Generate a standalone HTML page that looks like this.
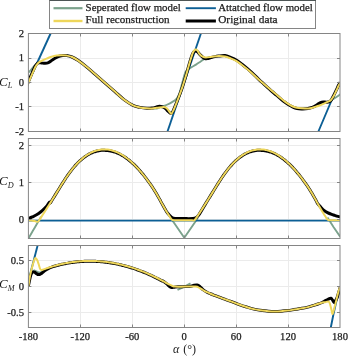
<!DOCTYPE html>
<html><head><meta charset="utf-8"><title>Aerodynamic coefficients</title>
<style>html,body{margin:0;padding:0;background:#fff;}svg{display:block;}</style>
</head><body>
<svg width="350" height="359" viewBox="0 0 350 359"><defs><filter id="bl" filterUnits="userSpaceOnUse" x="0" y="0" width="350" height="359" color-interpolation-filters="sRGB"><feGaussianBlur stdDeviation="0.4"/></filter><clipPath id="c0"><rect x="28.4" y="33.5" width="311.6" height="98.0"/></clipPath><clipPath id="c1"><rect x="28.4" y="138.5" width="311.6" height="100.0"/></clipPath><clipPath id="c2"><rect x="28.4" y="245.5" width="311.6" height="82.0"/></clipPath></defs><rect width="350" height="359" fill="#fff"/><g filter="url(#bl)"><line x1="80.5" y1="33.5" x2="80.5" y2="131.5" stroke="#ebebeb" stroke-width="1"/><line x1="132.5" y1="33.5" x2="132.5" y2="131.5" stroke="#ebebeb" stroke-width="1"/><line x1="184.5" y1="33.5" x2="184.5" y2="131.5" stroke="#ebebeb" stroke-width="1"/><line x1="236.5" y1="33.5" x2="236.5" y2="131.5" stroke="#ebebeb" stroke-width="1"/><line x1="288.5" y1="33.5" x2="288.5" y2="131.5" stroke="#ebebeb" stroke-width="1"/><line x1="28.4" y1="106.5" x2="340.0" y2="106.5" stroke="#ebebeb" stroke-width="1"/><line x1="28.4" y1="82.5" x2="340.0" y2="82.5" stroke="#ebebeb" stroke-width="1"/><line x1="28.4" y1="58.5" x2="340.0" y2="58.5" stroke="#ebebeb" stroke-width="1"/><line x1="80.5" y1="138.5" x2="80.5" y2="238.5" stroke="#ebebeb" stroke-width="1"/><line x1="132.5" y1="138.5" x2="132.5" y2="238.5" stroke="#ebebeb" stroke-width="1"/><line x1="184.5" y1="138.5" x2="184.5" y2="238.5" stroke="#ebebeb" stroke-width="1"/><line x1="236.5" y1="138.5" x2="236.5" y2="238.5" stroke="#ebebeb" stroke-width="1"/><line x1="288.5" y1="138.5" x2="288.5" y2="238.5" stroke="#ebebeb" stroke-width="1"/><line x1="28.4" y1="219.5" x2="340.0" y2="219.5" stroke="#ebebeb" stroke-width="1"/><line x1="28.4" y1="182.5" x2="340.0" y2="182.5" stroke="#ebebeb" stroke-width="1"/><line x1="28.4" y1="145.5" x2="340.0" y2="145.5" stroke="#ebebeb" stroke-width="1"/><line x1="80.5" y1="245.5" x2="80.5" y2="327.5" stroke="#ebebeb" stroke-width="1"/><line x1="132.5" y1="245.5" x2="132.5" y2="327.5" stroke="#ebebeb" stroke-width="1"/><line x1="184.5" y1="245.5" x2="184.5" y2="327.5" stroke="#ebebeb" stroke-width="1"/><line x1="236.5" y1="245.5" x2="236.5" y2="327.5" stroke="#ebebeb" stroke-width="1"/><line x1="288.5" y1="245.5" x2="288.5" y2="327.5" stroke="#ebebeb" stroke-width="1"/><line x1="28.4" y1="312.5" x2="340.0" y2="312.5" stroke="#ebebeb" stroke-width="1"/><line x1="28.4" y1="286.5" x2="340.0" y2="286.5" stroke="#ebebeb" stroke-width="1"/><line x1="28.4" y1="260.5" x2="340.0" y2="260.5" stroke="#ebebeb" stroke-width="1"/><g clip-path="url(#c0)"><path d="M28.40,72.50 C28.83,72.05 29.93,70.97 31.00,69.80 C32.07,68.63 33.63,66.65 34.80,65.50 C35.97,64.35 37.47,63.33 38.00,62.90" fill="none" stroke="#7ba28c" stroke-width="1.9" stroke-linejoin="round" stroke-linecap="butt" /><path d="M152.00,108.40 C152.73,108.42 154.90,108.75 156.40,108.50 C157.90,108.25 159.33,107.48 161.00,106.90 C162.67,106.32 164.55,105.80 166.40,105.00 C168.25,104.20 170.42,103.13 172.10,102.10 C173.78,101.07 175.27,100.32 176.50,98.80 C177.73,97.28 178.50,95.80 179.50,93.00 C180.50,90.20 181.53,85.43 182.50,82.00 C183.47,78.57 184.30,74.53 185.30,72.40 C186.30,70.27 187.47,70.07 188.50,69.20 C189.53,68.33 190.25,67.97 191.50,67.20 C192.75,66.43 194.58,65.47 196.00,64.60 C197.42,63.73 198.50,63.00 200.00,62.00 C201.50,61.00 203.33,59.43 205.00,58.60 C206.67,57.77 209.17,57.27 210.00,57.00" fill="none" stroke="#7ba28c" stroke-width="1.9" stroke-linejoin="round" stroke-linecap="butt" /><path d="M329.50,101.30 C330.08,100.92 331.83,99.72 333.00,99.00 C334.17,98.28 335.30,97.77 336.50,97.00 C337.70,96.23 339.58,94.83 340.20,94.40" fill="none" stroke="#7ba28c" stroke-width="1.9" stroke-linejoin="round" stroke-linecap="butt" /><path d="M28.40,82.00 L50.60,33.50" fill="none" stroke="#0c5f95" stroke-width="1.9" stroke-linejoin="round" stroke-linecap="butt" /><path d="M167.50,131.50 L200.90,33.50" fill="none" stroke="#0c5f95" stroke-width="1.9" stroke-linejoin="round" stroke-linecap="butt" /><path d="M318.40,131.50 L331.30,101.00 L333.70,96.00 L336.50,90.30 L340.20,82.50" fill="none" stroke="#0c5f95" stroke-width="1.9" stroke-linejoin="round" stroke-linecap="butt" /><path d="M26.60,85.80 C26.83,85.27 27.47,83.85 28.00,82.60 C28.53,81.35 29.20,79.72 29.80,78.30 C30.40,76.88 30.97,75.57 31.60,74.10 C32.23,72.63 32.98,70.85 33.60,69.50 C34.22,68.15 34.67,67.02 35.30,66.00 C35.93,64.98 36.70,63.93 37.40,63.40 C38.10,62.87 38.80,62.87 39.50,62.80 C40.20,62.73 40.67,62.92 41.60,63.00 C42.53,63.08 43.95,63.37 45.10,63.30 C46.25,63.23 47.53,62.97 48.50,62.60 C49.47,62.23 50.02,61.70 50.90,61.10 C51.78,60.50 52.85,59.63 53.80,59.00 C54.75,58.37 55.57,57.80 56.60,57.30 C57.63,56.80 58.93,56.28 60.00,56.00 C61.07,55.72 61.90,55.67 63.00,55.60 C64.10,55.53 65.10,55.37 66.60,55.60 C68.10,55.83 70.05,56.17 72.00,57.00 C73.95,57.83 75.73,58.83 78.30,60.60 C80.87,62.37 84.35,65.10 87.40,67.60 C90.45,70.10 93.55,72.93 96.60,75.60 C99.65,78.27 102.65,80.93 105.70,83.60 C108.75,86.27 111.85,88.93 114.90,91.60 C117.95,94.27 120.98,97.32 124.00,99.60 C127.02,101.88 130.33,104.00 133.00,105.30 C135.67,106.60 137.67,106.90 140.00,107.40 C142.33,107.90 145.00,108.18 147.00,108.30 C149.00,108.42 150.50,108.28 152.00,108.10 C153.50,107.92 154.78,107.52 156.00,107.20 C157.22,106.88 158.22,106.27 159.30,106.20 C160.38,106.13 161.47,106.42 162.50,106.80 C163.53,107.18 164.58,107.77 165.50,108.50 C166.42,109.23 167.25,110.45 168.00,111.20 C168.75,111.95 169.28,112.78 170.00,113.00 C170.72,113.22 171.55,113.42 172.30,112.50 C173.05,111.58 173.57,109.70 174.50,107.50 C175.43,105.30 176.63,102.57 177.90,99.30 C179.17,96.03 180.75,91.87 182.10,87.90 C183.45,83.93 184.68,79.90 186.00,75.50 C187.32,71.10 188.87,65.17 190.00,61.50 C191.13,57.83 191.97,55.25 192.80,53.50 C193.63,51.75 194.22,51.28 195.00,51.00 C195.78,50.72 196.67,51.20 197.50,51.80 C198.33,52.40 199.17,53.73 200.00,54.60 C200.83,55.47 201.67,56.33 202.50,57.00 C203.33,57.67 204.15,58.33 205.00,58.60 C205.85,58.87 206.60,58.77 207.60,58.60 C208.60,58.43 209.77,57.93 211.00,57.60 C212.23,57.27 213.75,56.85 215.00,56.60 C216.25,56.35 216.83,56.27 218.50,56.10 C220.17,55.93 223.00,55.38 225.00,55.60 C227.00,55.82 228.57,56.63 230.50,57.40 C232.43,58.17 234.68,59.07 236.60,60.20 C238.52,61.33 240.10,62.70 242.00,64.20 C243.90,65.70 245.83,67.30 248.00,69.20 C250.17,71.10 253.17,73.87 255.00,75.60 C256.83,77.33 257.57,78.23 259.00,79.60 C260.43,80.97 262.10,82.43 263.60,83.80 C265.10,85.17 266.58,86.52 268.00,87.80 C269.42,89.08 270.70,90.27 272.10,91.50 C273.50,92.73 274.97,93.97 276.40,95.20 C277.83,96.43 279.38,97.80 280.70,98.90 C282.02,100.00 282.98,100.82 284.30,101.80 C285.62,102.78 287.17,103.92 288.60,104.80 C290.03,105.68 291.48,106.48 292.90,107.10 C294.32,107.72 295.68,108.20 297.10,108.50 C298.52,108.80 299.97,108.85 301.40,108.90 C302.83,108.95 304.27,108.95 305.70,108.80 C307.13,108.65 308.62,108.37 310.00,108.00 C311.38,107.63 312.75,107.20 314.00,106.60 C315.25,106.00 316.42,105.07 317.50,104.40 C318.58,103.73 319.53,103.00 320.50,102.60 C321.47,102.20 322.30,102.07 323.30,102.00 C324.30,101.93 325.47,102.27 326.50,102.20 C327.53,102.13 328.67,102.03 329.50,101.60 C330.33,101.17 330.80,100.63 331.50,99.60 C332.20,98.57 332.87,97.07 333.70,95.40 C334.53,93.73 335.70,91.28 336.50,89.60 C337.30,87.92 337.88,86.52 338.50,85.30 C339.12,84.08 339.92,82.80 340.20,82.30" fill="none" stroke="#000000" stroke-width="3.0" stroke-linejoin="round" stroke-linecap="butt" /><path d="M27.00,86.00 C27.23,85.48 27.87,84.13 28.40,82.90 C28.93,81.67 29.60,80.02 30.20,78.60 C30.80,77.18 31.37,75.87 32.00,74.40 C32.63,72.93 33.40,71.13 34.00,69.80 C34.60,68.47 35.00,67.43 35.60,66.40 C36.20,65.37 36.87,64.38 37.60,63.60 C38.33,62.82 39.18,62.25 40.00,61.70 C40.82,61.15 41.40,60.82 42.50,60.30 C43.60,59.78 45.10,59.18 46.60,58.60 C48.10,58.02 49.83,57.30 51.50,56.80 C53.17,56.30 54.93,55.87 56.60,55.60 C58.27,55.33 59.83,55.20 61.50,55.20 C63.17,55.20 64.85,55.30 66.60,55.60 C68.35,55.90 70.05,56.17 72.00,57.00 C73.95,57.83 75.73,58.83 78.30,60.60 C80.87,62.37 84.35,65.10 87.40,67.60 C90.45,70.10 93.55,72.93 96.60,75.60 C99.65,78.27 102.65,80.93 105.70,83.60 C108.75,86.27 111.85,88.93 114.90,91.60 C117.95,94.27 120.98,97.32 124.00,99.60 C127.02,101.88 130.33,104.00 133.00,105.30 C135.67,106.60 137.67,106.90 140.00,107.40 C142.33,107.90 145.00,108.13 147.00,108.30 C149.00,108.47 150.33,108.48 152.00,108.40 C153.67,108.32 155.07,108.05 157.00,107.80 C158.93,107.55 162.02,106.87 163.60,106.90 C165.18,106.93 165.60,107.32 166.50,108.00 C167.40,108.68 168.20,110.03 169.00,111.00 C169.80,111.97 170.53,113.97 171.30,113.80 C172.07,113.63 172.50,112.42 173.60,110.00 C174.70,107.58 176.48,102.98 177.90,99.30 C179.32,95.62 180.75,91.87 182.10,87.90 C183.45,83.93 184.68,79.90 186.00,75.50 C187.32,71.10 188.83,65.33 190.00,61.50 C191.17,57.67 192.08,54.50 193.00,52.50 C193.92,50.50 194.75,49.83 195.50,49.50 C196.25,49.17 196.83,49.75 197.50,50.50 C198.17,51.25 198.65,52.97 199.50,54.00 C200.35,55.03 201.53,56.10 202.60,56.70 C203.67,57.30 204.37,57.60 205.90,57.60 C207.43,57.60 209.70,56.98 211.80,56.70 C213.90,56.42 216.30,55.95 218.50,55.90 C220.70,55.85 223.00,56.00 225.00,56.40 C227.00,56.80 228.57,57.52 230.50,58.30 C232.43,59.08 234.68,59.98 236.60,61.10 C238.52,62.22 240.10,63.55 242.00,65.00 C243.90,66.45 245.83,67.97 248.00,69.80 C250.17,71.63 253.17,74.33 255.00,76.00 C256.83,77.67 257.57,78.52 259.00,79.80 C260.43,81.08 262.10,82.42 263.60,83.70 C265.10,84.98 266.58,86.28 268.00,87.50 C269.42,88.72 270.70,89.82 272.10,91.00 C273.50,92.18 274.97,93.40 276.40,94.60 C277.83,95.80 279.38,97.12 280.70,98.20 C282.02,99.28 282.98,100.12 284.30,101.10 C285.62,102.08 287.17,103.20 288.60,104.10 C290.03,105.00 291.48,105.88 292.90,106.50 C294.32,107.12 295.68,107.50 297.10,107.80 C298.52,108.10 299.97,108.20 301.40,108.30 C302.83,108.40 304.27,108.42 305.70,108.40 C307.13,108.38 308.45,108.45 310.00,108.20 C311.55,107.95 313.42,107.35 315.00,106.90 C316.58,106.45 318.08,106.02 319.50,105.50 C320.92,104.98 322.25,104.37 323.50,103.80 C324.75,103.23 325.78,102.68 327.00,102.10 C328.22,101.52 329.68,101.32 330.80,100.30 C331.92,99.28 332.75,97.67 333.70,96.00 C334.65,94.33 335.70,91.97 336.50,90.30 C337.30,88.63 337.88,87.25 338.50,86.00 C339.12,84.75 339.92,83.33 340.20,82.80" fill="none" stroke="#eed65a" stroke-width="2.0" stroke-linejoin="round" stroke-linecap="butt" /></g><g clip-path="url(#c1)"><path d="M28.40,238.50 C29.17,237.18 31.45,233.25 33.00,230.60 C34.55,227.95 36.37,224.90 37.70,222.60 C39.03,220.30 40.45,217.77 41.00,216.80" fill="none" stroke="#7ba28c" stroke-width="1.9" stroke-linejoin="round" stroke-linecap="butt" /><path d="M170.70,218.00 L184.30,237.80 L197.90,218.00" fill="none" stroke="#7ba28c" stroke-width="1.9" stroke-linejoin="round" stroke-linecap="butt" /><path d="M327.50,217.60 L333.50,227.00 L340.20,236.60" fill="none" stroke="#7ba28c" stroke-width="1.9" stroke-linejoin="round" stroke-linecap="butt" /><path d="M28.40,220.60 L340.20,220.60" fill="none" stroke="#0c5f95" stroke-width="1.9" stroke-linejoin="round" stroke-linecap="butt" /><path d="M28.40,218.60 C29.05,218.32 30.93,217.53 32.30,216.90 C33.67,216.27 35.17,215.65 36.60,214.80 C38.03,213.95 39.68,212.75 40.90,211.80 C42.12,210.85 42.90,210.08 43.90,209.10 C44.90,208.12 45.97,207.05 46.90,205.90 C47.83,204.75 48.96,202.66 49.50,202.20 C50.04,201.74 49.80,203.38 50.17,203.13 C50.53,202.88 51.17,201.52 51.68,200.72 C52.18,199.91 52.69,199.10 53.19,198.28 C53.70,197.47 54.20,196.65 54.70,195.84 C55.21,195.02 55.71,194.20 56.22,193.37 C56.72,192.55 57.23,191.73 57.73,190.91 C58.24,190.09 58.74,189.26 59.24,188.45 C59.75,187.63 60.25,186.81 60.76,186.00 C61.26,185.19 61.77,184.38 62.27,183.59 C62.77,182.79 63.28,181.99 63.78,181.21 C64.29,180.43 64.79,179.65 65.30,178.89 C65.80,178.13 66.31,177.38 66.81,176.64 C67.31,175.90 67.82,175.17 68.32,174.46 C68.83,173.75 69.33,173.05 69.84,172.36 C70.34,171.68 70.84,171.01 71.35,170.35 C71.85,169.70 72.36,169.05 72.86,168.43 C73.37,167.80 73.87,167.20 74.38,166.60 C74.88,166.01 75.38,165.43 75.89,164.87 C76.39,164.32 76.90,163.79 77.40,163.27 C77.91,162.75 78.41,162.26 78.91,161.78 C79.42,161.30 79.92,160.83 80.43,160.38 C80.93,159.93 81.44,159.50 81.94,159.08 C82.44,158.66 82.95,158.26 83.45,157.87 C83.96,157.48 84.46,157.11 84.97,156.75 C85.47,156.40 85.98,156.05 86.48,155.73 C86.98,155.40 87.49,155.09 87.99,154.79 C88.50,154.50 89.00,154.21 89.51,153.95 C90.01,153.68 90.51,153.43 91.02,153.19 C91.52,152.96 92.03,152.73 92.53,152.53 C93.04,152.32 93.54,152.13 94.05,151.95 C94.55,151.77 95.05,151.61 95.56,151.46 C96.06,151.31 96.57,151.18 97.07,151.06 C97.58,150.94 98.08,150.83 98.58,150.74 C99.09,150.65 99.59,150.57 100.10,150.51 C100.60,150.45 101.11,150.40 101.61,150.37 C102.12,150.33 102.62,150.31 103.12,150.31 C103.63,150.30 104.13,150.31 104.64,150.33 C105.14,150.35 105.65,150.40 106.15,150.44 C106.65,150.47 107.16,150.50 107.66,150.55 C108.17,150.59 108.67,150.65 109.18,150.72 C109.68,150.79 110.18,150.87 110.69,150.97 C111.19,151.07 111.70,151.18 112.20,151.31 C112.71,151.43 113.21,151.57 113.72,151.72 C114.22,151.87 114.72,152.03 115.23,152.21 C115.73,152.39 116.24,152.58 116.74,152.78 C117.25,152.99 117.75,153.20 118.25,153.43 C118.76,153.66 119.26,153.90 119.77,154.15 C120.27,154.41 120.78,154.67 121.28,154.95 C121.79,155.23 122.29,155.52 122.79,155.83 C123.30,156.13 123.80,156.45 124.31,156.77 C124.81,157.10 125.32,157.44 125.82,157.79 C126.32,158.15 126.83,158.51 127.33,158.89 C127.84,159.26 128.34,159.65 128.85,160.05 C129.35,160.45 129.86,160.86 130.36,161.28 C130.86,161.70 131.37,162.14 131.87,162.58 C132.38,163.03 132.88,163.48 133.39,163.95 C133.89,164.42 134.39,164.90 134.90,165.39 C135.40,165.88 135.91,166.37 136.41,166.89 C136.92,167.41 137.42,167.96 137.93,168.51 C138.43,169.06 138.93,169.62 139.44,170.20 C139.94,170.77 140.45,171.35 140.95,171.94 C141.46,172.54 141.96,173.14 142.46,173.76 C142.97,174.37 143.47,174.99 143.98,175.63 C144.48,176.26 144.99,176.91 145.49,177.56 C145.99,178.22 146.50,178.88 147.00,179.56 C147.51,180.23 148.01,180.91 148.52,181.61 C149.02,182.30 149.53,183.01 150.03,183.73 C150.53,184.45 151.04,185.18 151.54,185.92 C152.05,186.67 152.55,187.43 153.06,188.21 C153.56,188.99 154.06,189.78 154.57,190.59 C155.07,191.41 155.58,192.24 156.08,193.09 C156.59,193.95 157.09,194.82 157.60,195.70 C158.10,196.58 158.60,197.48 159.11,198.38 C159.61,199.28 160.12,200.20 160.62,201.11 C161.13,202.02 161.63,202.94 162.13,203.86 C162.64,204.77 163.14,205.68 163.65,206.59 C164.15,207.49 164.66,208.39 165.16,209.26 C165.67,210.14 165.95,210.84 166.67,211.83 C167.40,212.82 168.61,214.24 169.50,215.20 C170.39,216.16 171.08,217.05 172.00,217.60 C172.92,218.15 173.00,218.33 175.00,218.50 C177.00,218.67 181.00,218.60 184.00,218.60 C187.00,218.60 190.92,218.72 193.00,218.50 C195.08,218.28 195.50,217.95 196.50,217.30 C197.50,216.65 197.43,216.96 199.00,214.60 C200.57,212.24 204.51,205.45 205.92,203.13 C207.32,200.82 206.92,201.52 207.43,200.72 C207.93,199.91 208.44,199.10 208.94,198.28 C209.45,197.47 209.95,196.65 210.45,195.84 C210.96,195.02 211.46,194.20 211.97,193.37 C212.47,192.55 212.98,191.73 213.48,190.91 C213.99,190.09 214.49,189.26 214.99,188.45 C215.50,187.63 216.00,186.81 216.51,186.00 C217.01,185.19 217.52,184.38 218.02,183.59 C218.52,182.79 219.03,181.99 219.53,181.21 C220.04,180.43 220.54,179.65 221.05,178.89 C221.55,178.13 222.06,177.38 222.56,176.64 C223.06,175.90 223.57,175.17 224.07,174.46 C224.58,173.75 225.08,173.05 225.59,172.36 C226.09,171.68 226.59,171.01 227.10,170.35 C227.60,169.70 228.11,169.05 228.61,168.43 C229.12,167.80 229.62,167.20 230.12,166.60 C230.63,166.01 231.13,165.43 231.64,164.87 C232.14,164.32 232.65,163.79 233.15,163.27 C233.66,162.75 234.16,162.26 234.66,161.78 C235.17,161.30 235.67,160.83 236.18,160.38 C236.68,159.93 237.19,159.50 237.69,159.08 C238.19,158.66 238.70,158.26 239.20,157.87 C239.71,157.48 240.21,157.11 240.72,156.75 C241.22,156.40 241.73,156.05 242.23,155.73 C242.73,155.40 243.24,155.09 243.74,154.79 C244.25,154.50 244.75,154.21 245.26,153.95 C245.76,153.68 246.26,153.43 246.77,153.19 C247.27,152.96 247.78,152.73 248.28,152.53 C248.79,152.32 249.29,152.13 249.80,151.95 C250.30,151.77 250.80,151.61 251.31,151.46 C251.81,151.31 252.32,151.18 252.82,151.06 C253.33,150.94 253.83,150.83 254.33,150.74 C254.84,150.65 255.34,150.57 255.85,150.51 C256.35,150.45 256.86,150.40 257.36,150.37 C257.87,150.33 258.37,150.31 258.87,150.31 C259.38,150.30 259.88,150.31 260.39,150.33 C260.89,150.35 261.40,150.40 261.90,150.44 C262.40,150.47 262.91,150.50 263.41,150.55 C263.92,150.59 264.42,150.65 264.93,150.72 C265.43,150.79 265.93,150.87 266.44,150.97 C266.94,151.07 267.45,151.18 267.95,151.31 C268.46,151.43 268.96,151.57 269.47,151.72 C269.97,151.87 270.47,152.03 270.98,152.21 C271.48,152.39 271.99,152.58 272.49,152.78 C273.00,152.99 273.50,153.20 274.00,153.43 C274.51,153.66 275.01,153.90 275.52,154.15 C276.02,154.41 276.53,154.67 277.03,154.95 C277.54,155.23 278.04,155.52 278.54,155.83 C279.05,156.13 279.55,156.45 280.06,156.77 C280.56,157.10 281.07,157.44 281.57,157.79 C282.07,158.15 282.58,158.51 283.08,158.89 C283.59,159.26 284.09,159.65 284.60,160.05 C285.10,160.45 285.61,160.86 286.11,161.28 C286.61,161.70 287.12,162.14 287.62,162.58 C288.13,163.03 288.63,163.48 289.14,163.95 C289.64,164.42 290.14,164.90 290.65,165.39 C291.15,165.88 291.66,166.37 292.16,166.89 C292.67,167.41 293.17,167.96 293.68,168.51 C294.18,169.06 294.68,169.62 295.19,170.20 C295.69,170.77 296.20,171.35 296.70,171.94 C297.21,172.54 297.71,173.14 298.21,173.76 C298.72,174.37 299.22,174.99 299.73,175.63 C300.23,176.26 300.74,176.91 301.24,177.56 C301.74,178.22 302.25,178.88 302.75,179.56 C303.26,180.23 303.76,180.91 304.27,181.61 C304.77,182.30 305.28,183.01 305.78,183.73 C306.28,184.45 306.79,185.18 307.29,185.92 C307.80,186.67 308.30,187.43 308.81,188.21 C309.31,188.99 309.81,189.78 310.32,190.59 C310.82,191.41 311.33,192.24 311.83,193.09 C312.34,193.95 312.84,194.82 313.35,195.70 C313.85,196.58 314.35,197.48 314.86,198.38 C315.36,199.28 315.87,200.20 316.37,201.11 C316.88,202.02 317.11,202.81 317.88,203.86 C318.66,204.90 319.98,206.31 321.00,207.40 C322.02,208.49 322.92,209.53 324.00,210.40 C325.08,211.27 326.33,211.98 327.50,212.60 C328.67,213.22 329.83,213.65 331.00,214.10 C332.17,214.55 333.33,214.92 334.50,215.30 C335.67,215.68 337.02,216.12 338.00,216.40 C338.98,216.68 340.00,216.90 340.40,217.00" fill="none" stroke="#000000" stroke-width="3.0" stroke-linejoin="round" stroke-linecap="butt" /><path d="M28.40,220.30 C28.92,220.35 30.48,220.47 31.50,220.60 C32.52,220.73 33.65,220.95 34.50,221.10 C35.35,221.25 35.97,221.43 36.60,221.50 C37.23,221.57 37.68,221.98 38.30,221.50 C38.92,221.02 39.58,219.70 40.30,218.60 C41.02,217.50 41.96,215.92 42.60,214.92 C43.24,213.92 43.61,213.38 44.11,212.61 C44.62,211.83 45.12,211.05 45.63,210.27 C46.13,209.48 46.63,208.70 47.14,207.91 C47.64,207.12 48.15,206.33 48.65,205.53 C49.16,204.73 49.66,203.93 50.17,203.13 C50.67,202.33 51.17,201.52 51.68,200.72 C52.18,199.91 52.69,199.10 53.19,198.28 C53.70,197.47 54.20,196.65 54.70,195.84 C55.21,195.02 55.71,194.20 56.22,193.37 C56.72,192.55 57.23,191.73 57.73,190.91 C58.24,190.09 58.74,189.26 59.24,188.45 C59.75,187.63 60.25,186.81 60.76,186.00 C61.26,185.19 61.77,184.38 62.27,183.59 C62.77,182.79 63.28,181.99 63.78,181.21 C64.29,180.43 64.79,179.65 65.30,178.89 C65.80,178.13 66.31,177.38 66.81,176.64 C67.31,175.90 67.82,175.17 68.32,174.46 C68.83,173.75 69.33,173.05 69.84,172.36 C70.34,171.68 70.84,171.01 71.35,170.35 C71.85,169.70 72.36,169.05 72.86,168.43 C73.37,167.80 73.87,167.20 74.38,166.60 C74.88,166.01 75.38,165.43 75.89,164.87 C76.39,164.31 76.90,163.77 77.40,163.24 C77.91,162.71 78.41,162.19 78.91,161.70 C79.42,161.20 79.92,160.72 80.43,160.25 C80.93,159.78 81.44,159.33 81.94,158.90 C82.44,158.46 82.95,158.04 83.45,157.64 C83.96,157.23 84.46,156.84 84.97,156.47 C85.47,156.09 85.98,155.73 86.48,155.39 C86.98,155.05 87.49,154.72 87.99,154.41 C88.50,154.09 89.00,153.79 89.51,153.51 C90.01,153.23 90.51,152.96 91.02,152.70 C91.52,152.45 92.03,152.21 92.53,151.99 C93.04,151.76 93.54,151.55 94.05,151.36 C94.55,151.17 95.05,150.99 95.56,150.82 C96.06,150.65 96.57,150.50 97.07,150.37 C97.58,150.23 98.08,150.11 98.58,150.00 C99.09,149.89 99.59,149.80 100.10,149.72 C100.60,149.64 101.11,149.58 101.61,149.53 C102.12,149.48 102.62,149.44 103.12,149.42 C103.63,149.39 104.13,149.38 104.64,149.39 C105.14,149.40 105.65,149.41 106.15,149.45 C106.65,149.48 107.16,149.53 107.66,149.59 C108.17,149.65 108.67,149.72 109.18,149.81 C109.68,149.90 110.18,150.00 110.69,150.11 C111.19,150.23 111.70,150.36 112.20,150.50 C112.71,150.64 113.21,150.80 113.72,150.96 C114.22,151.13 114.72,151.31 115.23,151.51 C115.73,151.70 116.24,151.91 116.74,152.13 C117.25,152.35 117.75,152.58 118.25,152.83 C118.76,153.07 119.26,153.33 119.77,153.60 C120.27,153.87 120.78,154.15 121.28,154.45 C121.79,154.75 122.29,155.05 122.79,155.37 C123.30,155.69 123.80,156.03 124.31,156.37 C124.81,156.72 125.32,157.07 125.82,157.44 C126.32,157.81 126.83,158.19 127.33,158.58 C127.84,158.98 128.34,159.38 128.85,159.80 C129.35,160.21 129.86,160.64 130.36,161.08 C130.86,161.52 131.37,161.97 131.87,162.43 C132.38,162.89 132.88,163.37 133.39,163.85 C133.89,164.34 134.39,164.83 134.90,165.34 C135.40,165.85 135.91,166.36 136.41,166.89 C136.92,167.42 137.42,167.96 137.93,168.51 C138.43,169.06 138.93,169.62 139.44,170.20 C139.94,170.77 140.45,171.35 140.95,171.94 C141.46,172.54 141.96,173.14 142.46,173.76 C142.97,174.37 143.47,174.99 143.98,175.63 C144.48,176.26 144.99,176.91 145.49,177.56 C145.99,178.22 146.50,178.88 147.00,179.56 C147.51,180.23 148.01,180.91 148.52,181.61 C149.02,182.30 149.53,183.01 150.03,183.73 C150.53,184.45 151.04,185.18 151.54,185.92 C152.05,186.67 152.55,187.43 153.06,188.21 C153.56,188.99 154.06,189.78 154.57,190.59 C155.07,191.41 155.58,192.24 156.08,193.09 C156.59,193.95 157.09,194.82 157.60,195.70 C158.10,196.58 158.60,197.48 159.11,198.38 C159.61,199.28 160.12,200.20 160.62,201.11 C161.13,202.02 161.63,202.94 162.13,203.86 C162.64,204.77 163.14,205.68 163.65,206.59 C164.15,207.49 164.66,208.39 165.16,209.26 C165.67,210.14 166.17,211.00 166.67,211.83 C167.18,212.66 167.68,213.48 168.19,214.25 C168.69,215.02 169.16,215.63 169.70,216.45 C170.24,217.28 170.77,218.58 171.40,219.20 C172.03,219.82 172.73,220.02 173.50,220.20 C174.27,220.38 174.20,220.28 176.00,220.30 C177.80,220.32 181.63,220.30 184.30,220.30 C186.97,220.30 190.30,220.32 192.00,220.30 C193.70,220.28 193.44,221.10 194.50,220.20 C195.56,219.30 197.46,216.19 198.35,214.92 C199.24,213.65 199.36,213.38 199.86,212.61 C200.37,211.83 200.87,211.05 201.38,210.27 C201.88,209.48 202.38,208.70 202.89,207.91 C203.39,207.12 203.90,206.33 204.40,205.53 C204.91,204.73 205.41,203.93 205.92,203.13 C206.42,202.33 206.92,201.52 207.43,200.72 C207.93,199.91 208.44,199.10 208.94,198.28 C209.45,197.47 209.95,196.65 210.45,195.84 C210.96,195.02 211.46,194.20 211.97,193.37 C212.47,192.55 212.98,191.73 213.48,190.91 C213.99,190.09 214.49,189.26 214.99,188.45 C215.50,187.63 216.00,186.81 216.51,186.00 C217.01,185.19 217.52,184.38 218.02,183.59 C218.52,182.79 219.03,181.99 219.53,181.21 C220.04,180.43 220.54,179.65 221.05,178.89 C221.55,178.13 222.06,177.38 222.56,176.64 C223.06,175.90 223.57,175.17 224.07,174.46 C224.58,173.75 225.08,173.05 225.59,172.36 C226.09,171.68 226.59,171.01 227.10,170.35 C227.60,169.70 228.11,169.05 228.61,168.43 C229.12,167.80 229.62,167.20 230.12,166.60 C230.63,166.01 231.13,165.43 231.64,164.87 C232.14,164.31 232.65,163.77 233.15,163.24 C233.66,162.71 234.16,162.19 234.66,161.70 C235.17,161.20 235.67,160.72 236.18,160.25 C236.68,159.78 237.19,159.33 237.69,158.90 C238.19,158.46 238.70,158.04 239.20,157.64 C239.71,157.23 240.21,156.84 240.72,156.47 C241.22,156.09 241.73,155.73 242.23,155.39 C242.73,155.05 243.24,154.72 243.74,154.41 C244.25,154.09 244.75,153.79 245.26,153.51 C245.76,153.23 246.26,152.96 246.77,152.70 C247.27,152.45 247.78,152.21 248.28,151.99 C248.79,151.76 249.29,151.55 249.80,151.36 C250.30,151.17 250.80,150.99 251.31,150.82 C251.81,150.65 252.32,150.50 252.82,150.37 C253.33,150.23 253.83,150.11 254.33,150.00 C254.84,149.89 255.34,149.80 255.85,149.72 C256.35,149.64 256.86,149.58 257.36,149.53 C257.87,149.48 258.37,149.44 258.87,149.42 C259.38,149.39 259.88,149.38 260.39,149.39 C260.89,149.40 261.40,149.41 261.90,149.45 C262.40,149.48 262.91,149.53 263.41,149.59 C263.92,149.65 264.42,149.72 264.93,149.81 C265.43,149.90 265.93,150.00 266.44,150.11 C266.94,150.23 267.45,150.36 267.95,150.50 C268.46,150.64 268.96,150.80 269.47,150.96 C269.97,151.13 270.47,151.31 270.98,151.51 C271.48,151.70 271.99,151.91 272.49,152.13 C273.00,152.35 273.50,152.58 274.00,152.83 C274.51,153.07 275.01,153.33 275.52,153.60 C276.02,153.87 276.53,154.15 277.03,154.45 C277.54,154.75 278.04,155.05 278.54,155.37 C279.05,155.69 279.55,156.03 280.06,156.37 C280.56,156.72 281.07,157.07 281.57,157.44 C282.07,157.81 282.58,158.19 283.08,158.58 C283.59,158.98 284.09,159.38 284.60,159.80 C285.10,160.21 285.61,160.64 286.11,161.08 C286.61,161.52 287.12,161.97 287.62,162.43 C288.13,162.89 288.63,163.37 289.14,163.85 C289.64,164.34 290.14,164.83 290.65,165.34 C291.15,165.85 291.66,166.36 292.16,166.89 C292.67,167.42 293.17,167.96 293.68,168.51 C294.18,169.06 294.68,169.62 295.19,170.20 C295.69,170.77 296.20,171.35 296.70,171.94 C297.21,172.54 297.71,173.14 298.21,173.76 C298.72,174.37 299.22,174.99 299.73,175.63 C300.23,176.26 300.74,176.91 301.24,177.56 C301.74,178.22 302.25,178.88 302.75,179.56 C303.26,180.23 303.76,180.91 304.27,181.61 C304.77,182.30 305.28,183.01 305.78,183.73 C306.28,184.45 306.79,185.18 307.29,185.92 C307.80,186.67 308.30,187.43 308.81,188.21 C309.31,188.99 309.81,189.78 310.32,190.59 C310.82,191.41 311.33,192.24 311.83,193.09 C312.34,193.95 312.84,194.82 313.35,195.70 C313.85,196.58 314.35,197.48 314.86,198.38 C315.36,199.28 315.87,200.20 316.37,201.11 C316.88,202.02 317.38,202.94 317.88,203.86 C318.39,204.77 318.89,205.68 319.40,206.59 C319.90,207.49 320.41,208.39 320.91,209.26 C321.42,210.14 321.92,211.00 322.42,211.83 C322.93,212.66 323.43,213.48 323.94,214.25 C324.44,215.02 324.91,215.63 325.45,216.45 C325.99,217.28 326.52,218.58 327.15,219.20 C327.78,219.82 328.44,220.02 329.25,220.20 C330.06,220.38 330.18,220.28 332.00,220.30 C333.82,220.32 338.83,220.30 340.20,220.30" fill="none" stroke="#eed65a" stroke-width="2.0" stroke-linejoin="round" stroke-linecap="butt" /></g><g clip-path="url(#c2)"><path d="M33.50,270.20 C33.92,270.37 35.08,270.83 36.00,271.20 C36.92,271.57 38.00,272.30 39.00,272.40 C40.00,272.50 41.00,272.17 42.00,271.80 C43.00,271.43 44.50,270.47 45.00,270.20" fill="none" stroke="#7ba28c" stroke-width="1.9" stroke-linejoin="round" stroke-linecap="butt" /><path d="M177.50,289.80 L184.00,286.80 L190.50,283.40" fill="none" stroke="#7ba28c" stroke-width="1.9" stroke-linejoin="round" stroke-linecap="butt" /><path d="M333.10,299.50 L335.20,302.30" fill="none" stroke="#7ba28c" stroke-width="1.9" stroke-linejoin="round" stroke-linecap="butt" /><path d="M28.40,281.00 L37.60,245.50" fill="none" stroke="#0c5f95" stroke-width="1.9" stroke-linejoin="round" stroke-linecap="butt" /><path d="M330.80,327.50 L333.40,314.50 L336.20,302.00 L340.20,287.30" fill="none" stroke="#0c5f95" stroke-width="1.9" stroke-linejoin="round" stroke-linecap="butt" /><path d="M28.40,286.00 C28.58,285.08 29.10,282.33 29.50,280.50 C29.90,278.67 30.30,276.42 30.80,275.00 C31.30,273.58 31.88,272.47 32.50,272.00 C33.12,271.53 33.83,271.93 34.50,272.20 C35.17,272.47 35.83,273.20 36.50,273.60 C37.17,274.00 37.83,274.53 38.50,274.60 C39.17,274.67 39.83,274.33 40.50,274.00 C41.17,273.67 41.75,273.17 42.50,272.60 C43.25,272.03 44.03,271.27 45.00,270.60 C45.97,269.93 46.97,269.26 48.30,268.60 C49.63,267.94 51.97,267.04 53.01,266.64 C54.04,266.24 54.01,266.34 54.51,266.20 C55.01,266.06 55.51,265.92 56.01,265.78 C56.51,265.65 57.01,265.51 57.51,265.38 C58.01,265.25 58.51,265.13 59.01,265.00 C59.51,264.88 60.01,264.76 60.51,264.64 C61.01,264.52 61.51,264.41 62.01,264.30 C62.51,264.19 63.01,264.08 63.51,263.97 C64.02,263.87 64.52,263.76 65.02,263.67 C65.52,263.57 66.02,263.47 66.52,263.38 C67.02,263.28 67.52,263.19 68.02,263.11 C68.52,263.02 69.02,262.94 69.52,262.85 C70.02,262.77 70.52,262.70 71.02,262.62 C71.52,262.55 72.02,262.47 72.52,262.40 C73.02,262.34 73.52,262.27 74.02,262.21 C74.52,262.14 75.02,262.08 75.52,262.03 C76.02,261.97 76.53,261.92 77.03,261.86 C77.53,261.81 78.03,261.77 78.53,261.72 C79.03,261.68 79.53,261.63 80.03,261.59 C80.53,261.56 81.03,261.52 81.53,261.49 C82.03,261.45 82.53,261.42 83.03,261.40 C83.53,261.37 84.03,261.34 84.53,261.32 C85.03,261.30 85.53,261.28 86.03,261.27 C86.53,261.25 87.03,261.24 87.53,261.23 C88.03,261.22 88.53,261.22 89.04,261.21 C89.54,261.21 90.04,261.21 90.54,261.21 C91.04,261.21 91.54,261.22 92.04,261.23 C92.54,261.24 93.04,261.25 93.54,261.26 C94.04,261.28 94.54,261.29 95.04,261.31 C95.54,261.33 96.04,261.36 96.54,261.38 C97.04,261.41 97.54,261.44 98.04,261.47 C98.54,261.50 99.04,261.53 99.54,261.57 C100.04,261.61 100.54,261.65 101.05,261.69 C101.55,261.74 102.05,261.78 102.55,261.83 C103.05,261.88 103.55,261.93 104.05,261.99 C104.55,262.04 105.05,262.10 105.55,262.16 C106.05,262.22 106.55,262.28 107.05,262.35 C107.55,262.42 108.05,262.48 108.55,262.56 C109.05,262.63 109.55,262.70 110.05,262.78 C110.55,262.86 111.05,262.94 111.55,263.02 C112.05,263.11 112.55,263.19 113.05,263.28 C113.56,263.37 114.06,263.46 114.56,263.56 C115.06,263.65 115.56,263.75 116.06,263.85 C116.56,263.95 117.06,264.05 117.56,264.16 C118.06,264.27 118.56,264.38 119.06,264.49 C119.56,264.60 120.06,264.71 120.56,264.83 C121.06,264.95 121.56,265.07 122.06,265.19 C122.56,265.31 123.06,265.44 123.56,265.57 C124.06,265.70 124.56,265.83 125.06,265.96 C125.57,266.10 126.07,266.23 126.57,266.37 C127.07,266.51 127.57,266.66 128.07,266.80 C128.57,266.95 129.07,267.10 129.57,267.25 C130.07,267.40 130.57,267.55 131.07,267.71 C131.57,267.86 132.07,268.02 132.57,268.19 C133.07,268.35 133.57,268.51 134.07,268.68 C134.57,268.85 135.07,269.02 135.57,269.19 C136.07,269.36 136.57,269.54 137.07,269.72 C137.57,269.90 138.08,270.08 138.58,270.26 C139.08,270.45 139.58,270.63 140.08,270.82 C140.58,271.01 141.08,271.20 141.58,271.40 C142.08,271.59 142.58,271.79 143.08,271.99 C143.58,272.19 144.08,272.39 144.58,272.60 C145.08,272.81 145.58,273.02 146.08,273.23 C146.58,273.44 147.08,273.65 147.58,273.87 C148.08,274.08 148.58,274.30 149.08,274.53 C149.58,274.75 150.08,274.97 150.59,275.20 C151.09,275.43 151.59,275.66 152.09,275.89 C152.59,276.12 153.09,276.36 153.59,276.60 C154.09,276.83 154.59,277.08 155.09,277.32 C155.59,277.56 156.09,277.81 156.59,278.06 C157.09,278.31 157.59,278.56 158.09,278.81 C158.59,279.07 159.09,279.32 159.59,279.58 C160.09,279.84 160.59,280.10 161.09,280.37 C161.59,280.63 162.28,281.06 162.60,281.17 C162.91,281.28 162.35,280.59 163.00,281.00 C163.65,281.41 165.45,282.70 166.50,283.60 C167.55,284.50 168.47,285.75 169.30,286.40 C170.13,287.05 170.67,287.37 171.50,287.50 C172.33,287.63 173.22,287.32 174.30,287.20 C175.38,287.08 176.22,286.90 178.00,286.80 C179.78,286.70 182.83,286.68 185.00,286.60 C187.17,286.52 189.50,286.52 191.00,286.30 C192.50,286.08 192.98,285.52 194.00,285.30 C195.02,285.08 196.13,284.82 197.10,285.00 C198.07,285.18 198.82,285.63 199.80,286.40 C200.78,287.17 201.80,288.63 203.00,289.60 C204.20,290.57 205.67,291.47 207.00,292.20 C208.33,292.93 209.63,293.43 211.00,294.00 C212.37,294.57 213.20,294.83 215.20,295.60 C217.20,296.37 220.38,297.63 223.00,298.60 C225.62,299.57 228.32,300.45 230.90,301.40 C233.48,302.35 235.88,303.37 238.50,304.30 C241.12,305.23 244.02,306.20 246.60,307.00 C249.18,307.80 251.38,308.50 254.00,309.10 C256.62,309.70 259.88,310.25 262.30,310.60 C264.72,310.95 266.40,311.07 268.50,311.20 C270.60,311.33 272.82,311.40 274.90,311.40 C276.98,311.40 278.90,311.33 281.00,311.20 C283.10,311.07 285.33,310.87 287.50,310.60 C289.67,310.33 291.92,309.93 294.00,309.60 C296.08,309.27 297.88,308.97 300.00,308.60 C302.12,308.23 304.45,307.93 306.70,307.40 C308.95,306.87 311.62,305.97 313.50,305.40 C315.38,304.83 316.58,304.48 318.00,304.00 C319.42,303.52 320.83,303.02 322.00,302.50 C323.17,301.98 324.00,301.43 325.00,300.90 C326.00,300.37 327.00,299.75 328.00,299.30 C329.00,298.85 330.17,297.95 331.00,298.20 C331.83,298.45 332.42,300.07 333.00,300.80 C333.58,301.53 334.00,302.73 334.50,302.60 C335.00,302.47 335.52,300.98 336.00,300.00 C336.48,299.02 336.93,298.03 337.40,296.70 C337.87,295.37 338.33,293.55 338.80,292.00 C339.27,290.45 339.97,288.17 340.20,287.40" fill="none" stroke="#000000" stroke-width="3.0" stroke-linejoin="round" stroke-linecap="butt" /><path d="M28.40,286.40 C28.70,284.52 29.43,278.83 30.20,275.10 C30.97,271.37 32.18,266.80 33.00,264.00 C33.82,261.20 34.43,259.00 35.10,258.30 C35.77,257.60 36.42,258.85 37.00,259.80 C37.58,260.75 38.10,262.53 38.60,264.00 C39.10,265.47 39.52,267.60 40.00,268.60 C40.48,269.60 40.58,269.97 41.50,270.00 C42.42,270.03 44.58,269.08 45.50,268.79 C46.42,268.50 46.50,268.44 47.00,268.26 C47.50,268.09 48.00,267.92 48.50,267.75 C49.00,267.59 49.50,267.42 50.00,267.26 C50.50,267.10 51.00,266.94 51.50,266.79 C52.01,266.64 52.51,266.48 53.01,266.34 C53.51,266.19 54.01,266.04 54.51,265.90 C55.01,265.76 55.51,265.62 56.01,265.48 C56.51,265.35 57.01,265.21 57.51,265.08 C58.01,264.95 58.51,264.83 59.01,264.70 C59.51,264.58 60.01,264.46 60.51,264.34 C61.01,264.22 61.51,264.11 62.01,264.00 C62.51,263.89 63.01,263.78 63.51,263.67 C64.02,263.57 64.52,263.46 65.02,263.37 C65.52,263.27 66.02,263.17 66.52,263.08 C67.02,262.98 67.52,262.89 68.02,262.81 C68.52,262.72 69.02,262.64 69.52,262.55 C70.02,262.47 70.52,262.40 71.02,262.32 C71.52,262.25 72.02,262.17 72.52,262.10 C73.02,262.04 73.52,261.97 74.02,261.91 C74.52,261.84 75.02,261.78 75.52,261.73 C76.02,261.67 76.53,261.62 77.03,261.56 C77.53,261.51 78.03,261.47 78.53,261.42 C79.03,261.38 79.53,261.33 80.03,261.29 C80.53,261.26 81.03,261.22 81.53,261.19 C82.03,261.15 82.53,261.12 83.03,261.10 C83.53,261.07 84.03,261.04 84.53,261.02 C85.03,261.00 85.53,260.98 86.03,260.97 C86.53,260.95 87.03,260.94 87.53,260.93 C88.03,260.92 88.53,260.92 89.04,260.91 C89.54,260.91 90.04,260.91 90.54,260.91 C91.04,260.91 91.54,260.92 92.04,260.93 C92.54,260.94 93.04,260.95 93.54,260.96 C94.04,260.98 94.54,260.99 95.04,261.01 C95.54,261.03 96.04,261.06 96.54,261.08 C97.04,261.11 97.54,261.14 98.04,261.17 C98.54,261.20 99.04,261.23 99.54,261.27 C100.04,261.31 100.54,261.35 101.05,261.39 C101.55,261.44 102.05,261.48 102.55,261.53 C103.05,261.58 103.55,261.63 104.05,261.69 C104.55,261.74 105.05,261.80 105.55,261.86 C106.05,261.92 106.55,261.98 107.05,262.05 C107.55,262.12 108.05,262.18 108.55,262.26 C109.05,262.33 109.55,262.40 110.05,262.48 C110.55,262.56 111.05,262.64 111.55,262.72 C112.05,262.81 112.55,262.89 113.05,262.98 C113.56,263.07 114.06,263.16 114.56,263.26 C115.06,263.35 115.56,263.45 116.06,263.55 C116.56,263.65 117.06,263.75 117.56,263.86 C118.06,263.97 118.56,264.08 119.06,264.19 C119.56,264.30 120.06,264.41 120.56,264.53 C121.06,264.65 121.56,264.77 122.06,264.89 C122.56,265.01 123.06,265.14 123.56,265.27 C124.06,265.40 124.56,265.53 125.06,265.66 C125.57,265.80 126.07,265.93 126.57,266.07 C127.07,266.21 127.57,266.36 128.07,266.50 C128.57,266.65 129.07,266.80 129.57,266.95 C130.07,267.10 130.57,267.25 131.07,267.41 C131.57,267.56 132.07,267.72 132.57,267.89 C133.07,268.05 133.57,268.21 134.07,268.38 C134.57,268.55 135.07,268.72 135.57,268.89 C136.07,269.06 136.57,269.24 137.07,269.42 C137.57,269.60 138.08,269.78 138.58,269.96 C139.08,270.15 139.58,270.33 140.08,270.52 C140.58,270.71 141.08,270.90 141.58,271.10 C142.08,271.29 142.58,271.49 143.08,271.69 C143.58,271.89 144.08,272.09 144.58,272.30 C145.08,272.51 145.58,272.72 146.08,272.93 C146.58,273.14 147.08,273.35 147.58,273.57 C148.08,273.78 148.58,274.00 149.08,274.23 C149.58,274.45 150.08,274.67 150.59,274.90 C151.09,275.13 151.59,275.36 152.09,275.59 C152.59,275.82 153.09,276.06 153.59,276.30 C154.09,276.53 154.59,276.78 155.09,277.02 C155.59,277.26 156.09,277.51 156.59,277.76 C157.09,278.01 157.59,278.26 158.09,278.51 C158.59,278.77 159.09,279.02 159.59,279.28 C160.09,279.54 160.59,279.80 161.09,280.07 C161.59,280.33 162.09,280.60 162.60,280.87 C163.10,281.14 163.60,281.41 164.10,281.69 C164.60,281.96 165.10,282.24 165.60,282.52 C166.10,282.80 166.60,283.08 167.10,283.37 C167.60,283.66 167.78,283.83 168.60,284.24 C169.42,284.64 170.93,285.41 172.00,285.80 C173.07,286.19 172.83,286.47 175.00,286.60 C177.17,286.73 181.55,286.60 185.00,286.60 C188.45,286.60 193.28,286.37 195.70,286.60 C198.12,286.83 198.28,287.43 199.50,288.00 C200.72,288.57 201.75,289.30 203.00,290.00 C204.25,290.70 205.67,291.53 207.00,292.20 C208.33,292.87 209.63,293.43 211.00,294.00 C212.37,294.57 213.20,294.83 215.20,295.60 C217.20,296.37 220.38,297.63 223.00,298.60 C225.62,299.57 228.32,300.45 230.90,301.40 C233.48,302.35 235.88,303.37 238.50,304.30 C241.12,305.23 244.02,306.20 246.60,307.00 C249.18,307.80 251.38,308.50 254.00,309.10 C256.62,309.70 259.88,310.25 262.30,310.60 C264.72,310.95 266.40,311.07 268.50,311.20 C270.60,311.33 272.82,311.40 274.90,311.40 C276.98,311.40 278.90,311.33 281.00,311.20 C283.10,311.07 285.33,310.87 287.50,310.60 C289.67,310.33 291.92,309.93 294.00,309.60 C296.08,309.27 297.88,308.97 300.00,308.60 C302.12,308.23 304.45,307.93 306.70,307.40 C308.95,306.87 311.13,306.13 313.50,305.40 C315.87,304.67 318.98,303.53 320.90,303.00 C322.82,302.47 323.70,302.43 325.00,302.20 C326.30,301.97 327.85,301.22 328.70,301.60 C329.55,301.98 329.62,303.03 330.10,304.50 C330.58,305.97 331.18,308.82 331.60,310.40 C332.02,311.98 332.20,314.17 332.60,314.00 C333.00,313.83 333.43,311.47 334.00,309.40 C334.57,307.33 335.27,304.53 336.00,301.60 C336.73,298.67 337.73,294.23 338.40,291.80 C339.07,289.37 339.73,287.80 340.00,287.00" fill="none" stroke="#eed65a" stroke-width="2.0" stroke-linejoin="round" stroke-linecap="butt" /></g><rect x="28.4" y="33.5" width="311.6" height="98.0" fill="none" stroke="#858585" stroke-width="1"/><line x1="28.4" y1="106.5" x2="31.4" y2="106.5" stroke="#858585" stroke-width="1"/><line x1="340.0" y1="106.5" x2="337.0" y2="106.5" stroke="#858585" stroke-width="1"/><line x1="28.4" y1="82.5" x2="31.4" y2="82.5" stroke="#858585" stroke-width="1"/><line x1="340.0" y1="82.5" x2="337.0" y2="82.5" stroke="#858585" stroke-width="1"/><line x1="28.4" y1="58.5" x2="31.4" y2="58.5" stroke="#858585" stroke-width="1"/><line x1="340.0" y1="58.5" x2="337.0" y2="58.5" stroke="#858585" stroke-width="1"/><line x1="80.5" y1="131.5" x2="80.5" y2="128.5" stroke="#858585" stroke-width="1"/><line x1="80.5" y1="33.5" x2="80.5" y2="36.5" stroke="#858585" stroke-width="1"/><line x1="132.5" y1="131.5" x2="132.5" y2="128.5" stroke="#858585" stroke-width="1"/><line x1="132.5" y1="33.5" x2="132.5" y2="36.5" stroke="#858585" stroke-width="1"/><line x1="184.5" y1="131.5" x2="184.5" y2="128.5" stroke="#858585" stroke-width="1"/><line x1="184.5" y1="33.5" x2="184.5" y2="36.5" stroke="#858585" stroke-width="1"/><line x1="236.5" y1="131.5" x2="236.5" y2="128.5" stroke="#858585" stroke-width="1"/><line x1="236.5" y1="33.5" x2="236.5" y2="36.5" stroke="#858585" stroke-width="1"/><line x1="288.5" y1="131.5" x2="288.5" y2="128.5" stroke="#858585" stroke-width="1"/><line x1="288.5" y1="33.5" x2="288.5" y2="36.5" stroke="#858585" stroke-width="1"/><rect x="28.4" y="138.5" width="311.6" height="100.0" fill="none" stroke="#858585" stroke-width="1"/><line x1="28.4" y1="219.5" x2="31.4" y2="219.5" stroke="#858585" stroke-width="1"/><line x1="340.0" y1="219.5" x2="337.0" y2="219.5" stroke="#858585" stroke-width="1"/><line x1="28.4" y1="182.5" x2="31.4" y2="182.5" stroke="#858585" stroke-width="1"/><line x1="340.0" y1="182.5" x2="337.0" y2="182.5" stroke="#858585" stroke-width="1"/><line x1="28.4" y1="145.5" x2="31.4" y2="145.5" stroke="#858585" stroke-width="1"/><line x1="340.0" y1="145.5" x2="337.0" y2="145.5" stroke="#858585" stroke-width="1"/><line x1="80.5" y1="238.5" x2="80.5" y2="235.5" stroke="#858585" stroke-width="1"/><line x1="80.5" y1="138.5" x2="80.5" y2="141.5" stroke="#858585" stroke-width="1"/><line x1="132.5" y1="238.5" x2="132.5" y2="235.5" stroke="#858585" stroke-width="1"/><line x1="132.5" y1="138.5" x2="132.5" y2="141.5" stroke="#858585" stroke-width="1"/><line x1="184.5" y1="238.5" x2="184.5" y2="235.5" stroke="#858585" stroke-width="1"/><line x1="184.5" y1="138.5" x2="184.5" y2="141.5" stroke="#858585" stroke-width="1"/><line x1="236.5" y1="238.5" x2="236.5" y2="235.5" stroke="#858585" stroke-width="1"/><line x1="236.5" y1="138.5" x2="236.5" y2="141.5" stroke="#858585" stroke-width="1"/><line x1="288.5" y1="238.5" x2="288.5" y2="235.5" stroke="#858585" stroke-width="1"/><line x1="288.5" y1="138.5" x2="288.5" y2="141.5" stroke="#858585" stroke-width="1"/><rect x="28.4" y="245.5" width="311.6" height="82.0" fill="none" stroke="#858585" stroke-width="1"/><line x1="28.4" y1="312.5" x2="31.4" y2="312.5" stroke="#858585" stroke-width="1"/><line x1="340.0" y1="312.5" x2="337.0" y2="312.5" stroke="#858585" stroke-width="1"/><line x1="28.4" y1="286.5" x2="31.4" y2="286.5" stroke="#858585" stroke-width="1"/><line x1="340.0" y1="286.5" x2="337.0" y2="286.5" stroke="#858585" stroke-width="1"/><line x1="28.4" y1="260.5" x2="31.4" y2="260.5" stroke="#858585" stroke-width="1"/><line x1="340.0" y1="260.5" x2="337.0" y2="260.5" stroke="#858585" stroke-width="1"/><line x1="80.5" y1="327.5" x2="80.5" y2="324.5" stroke="#858585" stroke-width="1"/><line x1="80.5" y1="245.5" x2="80.5" y2="248.5" stroke="#858585" stroke-width="1"/><line x1="132.5" y1="327.5" x2="132.5" y2="324.5" stroke="#858585" stroke-width="1"/><line x1="132.5" y1="245.5" x2="132.5" y2="248.5" stroke="#858585" stroke-width="1"/><line x1="184.5" y1="327.5" x2="184.5" y2="324.5" stroke="#858585" stroke-width="1"/><line x1="184.5" y1="245.5" x2="184.5" y2="248.5" stroke="#858585" stroke-width="1"/><line x1="236.5" y1="327.5" x2="236.5" y2="324.5" stroke="#858585" stroke-width="1"/><line x1="236.5" y1="245.5" x2="236.5" y2="248.5" stroke="#858585" stroke-width="1"/><line x1="288.5" y1="327.5" x2="288.5" y2="324.5" stroke="#858585" stroke-width="1"/><line x1="288.5" y1="245.5" x2="288.5" y2="248.5" stroke="#858585" stroke-width="1"/><g font-family="'Liberation Serif', serif" font-size="10.6" fill="#1c1c1c" stroke="#1c1c1c" stroke-width="0.25"><text x="24" y="36.90" text-anchor="end">2</text><text x="24" y="61.40" text-anchor="end">1</text><text x="24" y="85.90" text-anchor="end">0</text><text x="24" y="110.40" text-anchor="end">-1</text><text x="24" y="134.90" text-anchor="end">-2</text><text x="24" y="149.31" text-anchor="end">2</text><text x="24" y="186.34" text-anchor="end">1</text><text x="24" y="223.38" text-anchor="end">0</text><text x="24" y="264.27" text-anchor="end">0.5</text><text x="24" y="289.90" text-anchor="end">0</text><text x="24" y="315.52" text-anchor="end">-0.5</text><text x="28.40" y="340.2" text-anchor="middle">-180</text><text x="80.33" y="340.2" text-anchor="middle">-120</text><text x="132.27" y="340.2" text-anchor="middle">-60</text><text x="184.20" y="340.2" text-anchor="middle">0</text><text x="236.13" y="340.2" text-anchor="middle">60</text><text x="288.07" y="340.2" text-anchor="middle">120</text><text x="340.00" y="340.2" text-anchor="middle">180</text></g><text x="-0.9" y="85.60" font-family="'Liberation Serif', serif" font-style="italic" font-size="13" fill="#1c1c1c">C<tspan font-size="8.2" dy="2.5">L</tspan></text><text x="-0.9" y="185.20" font-family="'Liberation Serif', serif" font-style="italic" font-size="13" fill="#1c1c1c">C<tspan font-size="8.2" dy="2.5">D</tspan></text><text x="-0.9" y="288.00" font-family="'Liberation Serif', serif" font-style="italic" font-size="13" fill="#1c1c1c">C<tspan font-size="8.2" dy="2.5">M</tspan></text><text x="184.5" y="353" text-anchor="middle" font-family="'Liberation Serif', serif" font-size="12" fill="#1c1c1c"><tspan font-style="italic">α</tspan><tspan dx="1.0"> (°)</tspan></text><rect x="49.5" y="-1.5" width="266.0" height="30.0" fill="#fff" stroke="#858585" stroke-width="1"/><line x1="49.5" y1="0.5" x2="316.0" y2="0.5" stroke="#4d5555" stroke-width="1"/><line x1="53.5" y1="8.2" x2="82.5" y2="8.2" stroke="#7ba28c" stroke-width="2.1999999999999997"/><line x1="53.5" y1="21.0" x2="82.5" y2="21.0" stroke="#eed65a" stroke-width="2.4"/><line x1="185.7" y1="8.2" x2="215.9" y2="8.2" stroke="#0c5f95" stroke-width="1.9"/><line x1="185.7" y1="21.0" x2="215.9" y2="21.0" stroke="#000000" stroke-width="3.0"/><g font-family="'Liberation Serif', serif" font-size="11.1" fill="#1c1c1c" stroke="#1c1c1c" stroke-width="0.25"><text x="85.6" y="10.9" textLength="95.2" lengthAdjust="spacingAndGlyphs">Seperated flow model</text><text x="85.6" y="23.3" textLength="84.0" lengthAdjust="spacingAndGlyphs">Full reconstruction</text><text x="218.2" y="10.9" textLength="94.6" lengthAdjust="spacingAndGlyphs">Attatched flow model</text><text x="218.2" y="23.3" textLength="59.4" lengthAdjust="spacingAndGlyphs">Original data</text></g></g></svg>
</body></html>
